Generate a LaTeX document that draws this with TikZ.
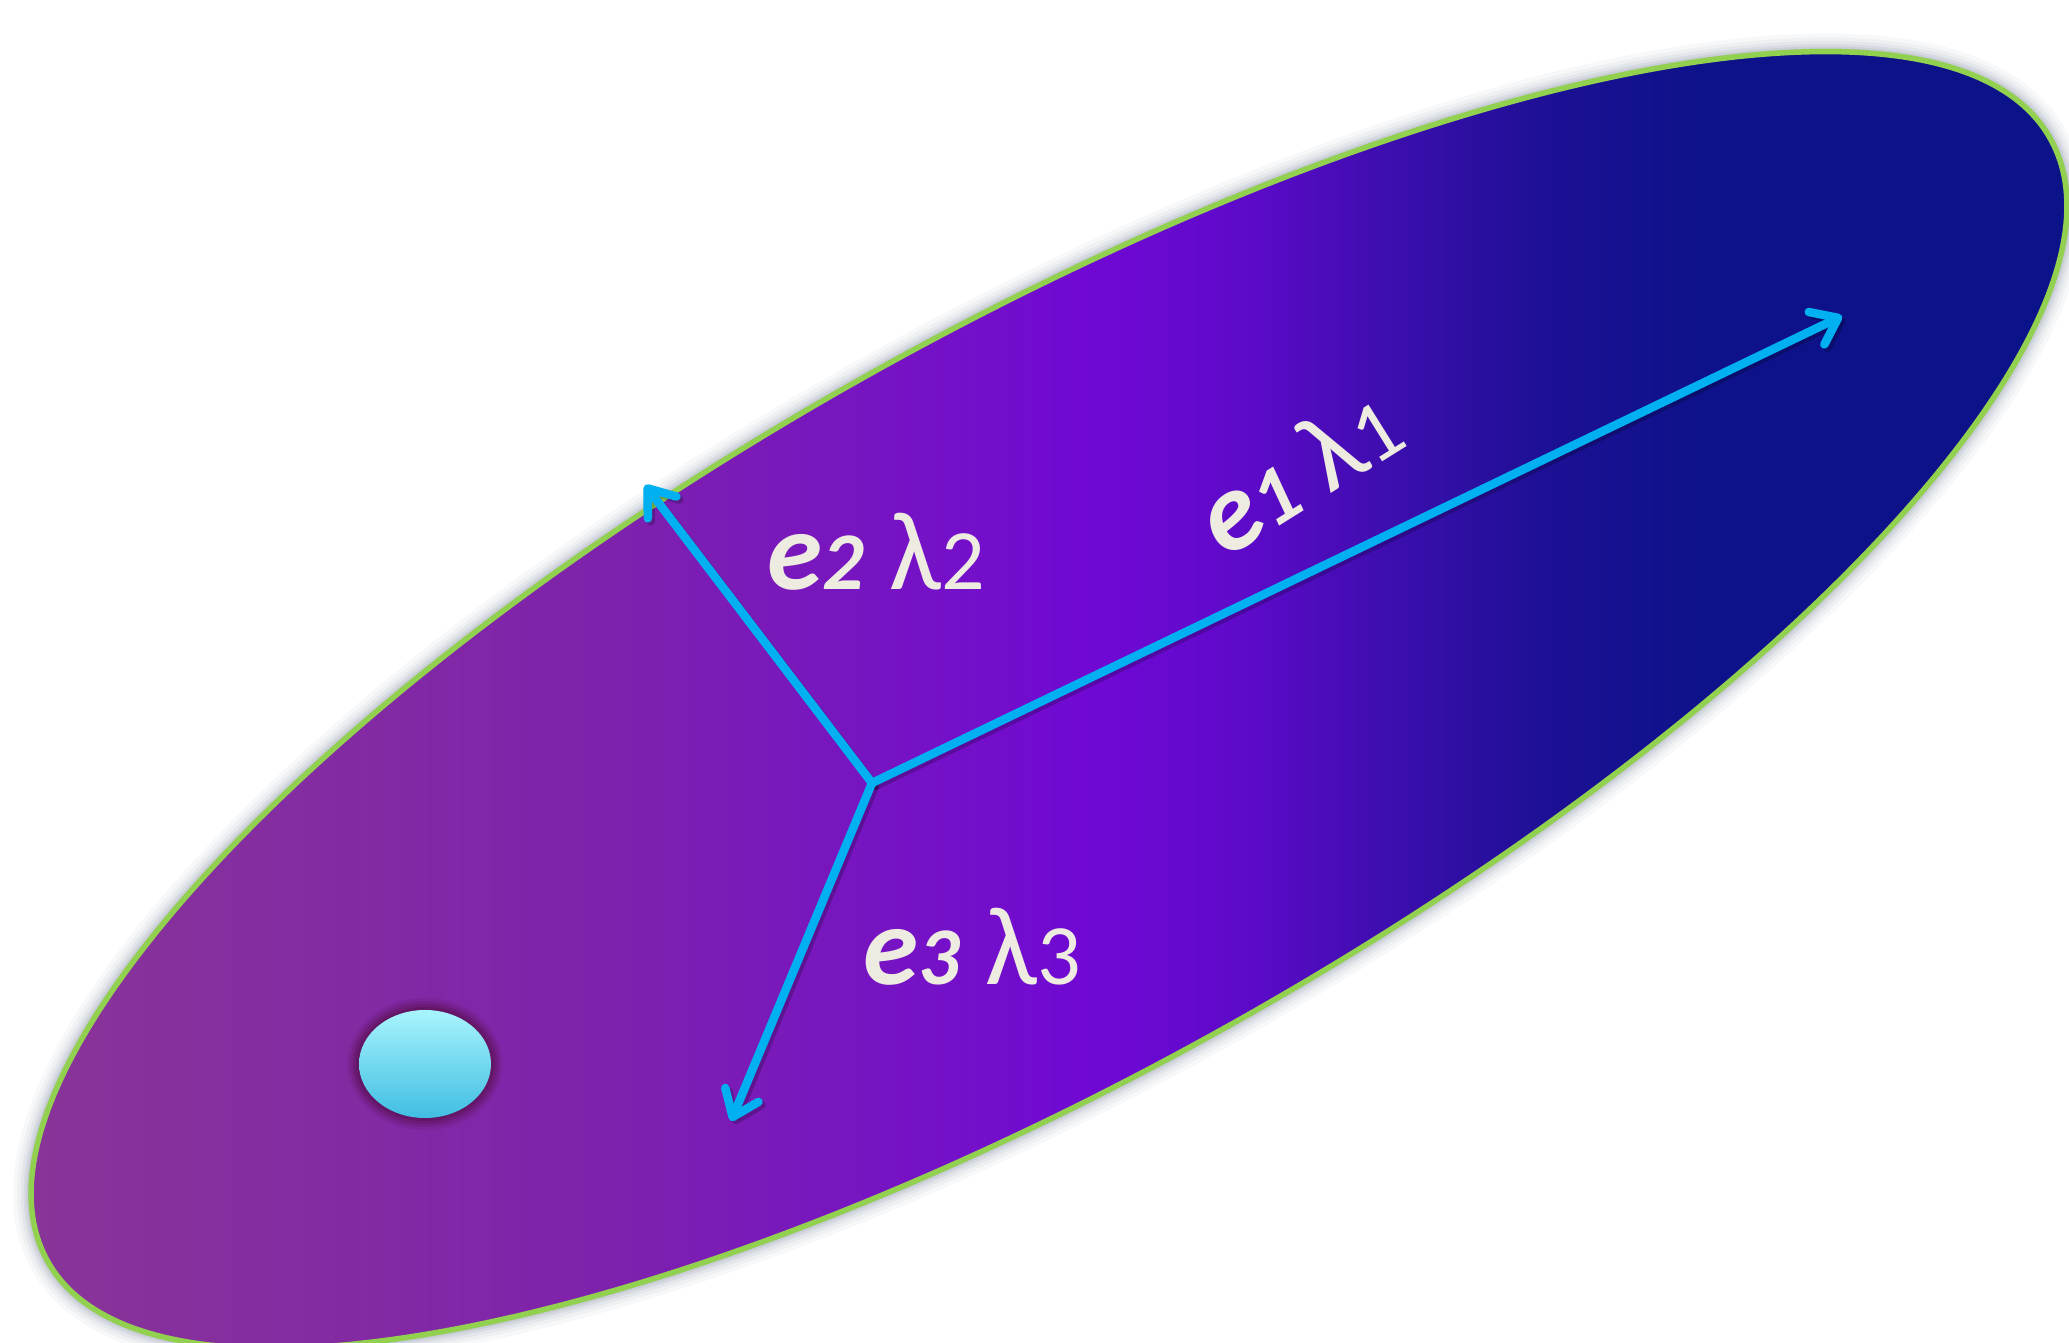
\documentclass[tikz,border=0pt]{standalone}
\usepackage{fontspec}
\setmainfont{Carlito}
\usetikzlibrary{arrows.meta}
\definecolor{c0}{RGB}{137,52,152}
\definecolor{c1}{RGB}{126,34,172}
\definecolor{c2}{RGB}{112,8,212}
\definecolor{c3}{RGB}{92,10,200}
\definecolor{c4}{RGB}{58,14,172}
\definecolor{c5}{RGB}{28,16,148}
\definecolor{c6}{RGB}{14,18,138}
\definecolor{c7}{RGB}{12,18,136}
\definecolor{edgegreen}{RGB}{146,208,80}
\definecolor{vecblue}{RGB}{0,176,240}
\definecolor{labtext}{RGB}{238,236,225}
\definecolor{halo}{RGB}{96,20,92}
\definecolor{dotTop}{RGB}{168,244,252}
\definecolor{dotBot}{RGB}{64,190,227}
\definecolor{shadowgray}{RGB}{110,120,140}
\pgfdeclarehorizontalshading{bigfill}{100bp}{color(0bp)=(c0); color(25bp)=(c0); color(39bp)=(c1); color(51.25bp)=(c2); color(55bp)=(c3); color(58.65bp)=(c4); color(62.35bp)=(c5); color(66bp)=(c6); color(75bp)=(c7); color(100bp)=(c7)}
\newcommand\evlab[1]{{\fontsize{112}{130}\selectfont\bfseries\itshape e}{\fontsize{82}{96}\selectfont\bfseries\itshape #1}\hspace{26pt}{\fontsize{112}{130}\selectfont λ}{\fontsize{86}{96}\selectfont #1}}
\tikzset{
  bigE/.style={rotate around={29.27:(1049,643)}},
  vec/.style={draw=vecblue, line width=8.5pt, line cap=round,
    -{Straight Barb[length=24pt,width=36pt,line cap=round,line join=round]}},
  vecshadow/.style={draw=black, opacity=0.22, line width=8.5pt, line cap=round,
    -{Straight Barb[length=24pt,width=36pt,line cap=round,line join=round]}},
  lbl/.style={text=labtext, inner sep=0pt, outer sep=0pt}
}
\begin{document}
\begin{tikzpicture}[x=1pt,y=1pt]
\useasboundingbox (0,0) rectangle (2069,1343);
\clip (0,0) rectangle (2069,1343);
\fill[white] (0,0) rectangle (2069,1343);
% glow / shadow around the big ellipse
\foreach \w/\o in {36/0.05,28/0.06,21/0.08,15/0.1,10/0.12,6/0.15}
  \draw[shadowgray, line width=\w pt, opacity=\o, bigE] (1049,643) ellipse [x radius=1148, y radius=372];
% big ellipse fill
\begin{scope}
  \clip[bigE] (1049,643) ellipse [x radius=1148, y radius=372];
  \shade[shading=bigfill] (33,-200) rectangle (2065,1343);
\end{scope}
\draw[edgegreen, line width=5.5pt, bigE] (1049,643) ellipse [x radius=1148, y radius=372];
% small dot
\foreach \d/\o in {11/0.15,8/0.25,5/0.4,2/0.6}
  \fill[halo, opacity=\o] (425,279) ellipse [x radius=67+\d, y radius=55+\d];
\shade[top color=dotTop, bottom color=dotBot] (425,279) ellipse [x radius=66, y radius=54];
% vectors
\coordinate (O) at (872,560);
\coordinate (T1) at (1842,1027);
\coordinate (T2) at (645,858);
\coordinate (T3) at (731,222);
\begin{scope}[transform canvas={shift={(3pt,-3pt)}}]
  \draw[vecshadow] (O) -- (T1);
  \draw[vecshadow] (O) -- (T2);
  \draw[vecshadow] (O) -- (T3);
\end{scope}
\draw[vec] (O) -- (T1);
\draw[vec] (O) -- (T2);
\draw[vec] (O) -- (T3);
% labels
\node[lbl, anchor=base west] (L2) at (767,753) {\evlab{2}};
\node[lbl, anchor=base west] (L3) at (863,358) {\evlab{3}};
\node[lbl, rotate=32, anchor=center] (L1) at (1298,873) {\evlab{1}};
\end{tikzpicture}
\end{document}
